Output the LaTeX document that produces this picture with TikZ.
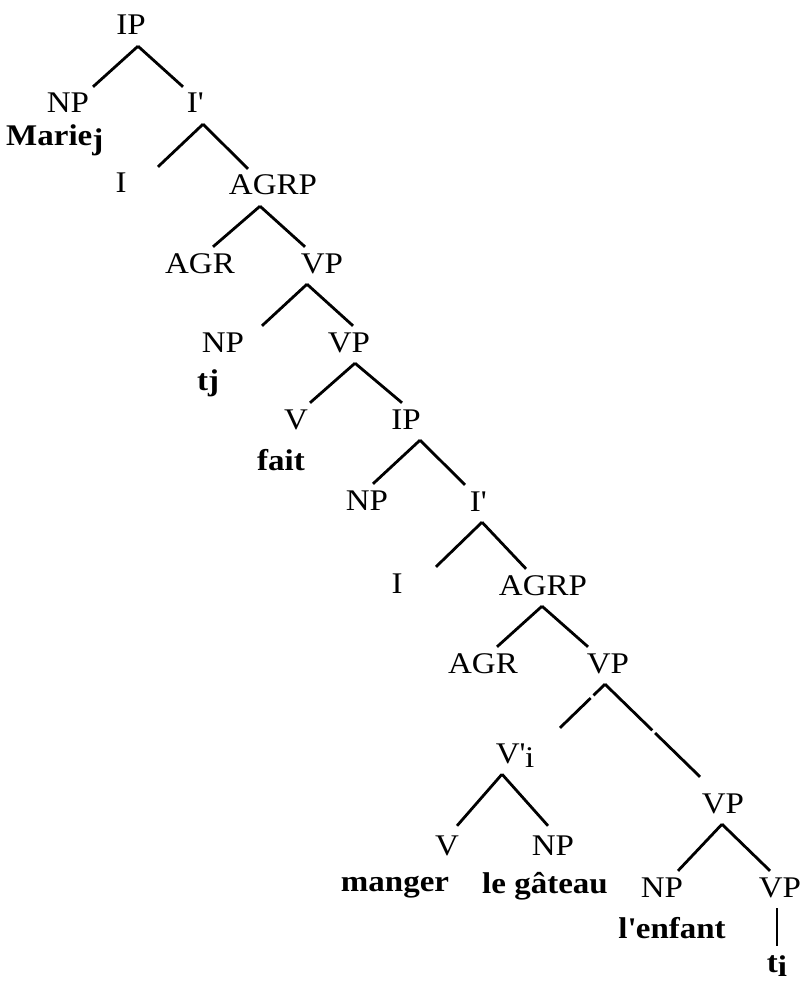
\documentclass[tikz,border=0pt]{standalone}
\usepackage{fontspec}
\setmainfont{Liberation Serif}[FakeStretch=1.1]
\newcommand\lowidx[1]{\raisebox{-4pt}{#1}}
\tikzset{
  cat/.style={inner sep=0pt, text height=26pt, text depth=11pt, anchor=base, font=\fontsize{30}{32}\selectfont},
  word/.style={cat, font=\fontsize{30}{32}\selectfont\bfseries},
  branch/.style={line width=2.8pt}
}

\begin{document}
\begin{tikzpicture}[x=1pt, y=-1pt]
    \useasboundingbox (0,0) rectangle (801,981);
    \node[cat] (ip1) at (131,35) {IP};
    \node[cat] (np1) at (68,113) {NP};
    \node[word, anchor=base west] (marie) at (6,146) {Marie\lowidx{j}};
    \node[cat] (ib1) at (195,113) {I\textquotesingle};
    \node[cat] (i1) at (121,193) {I};
    \node[cat] (agrp1) at (273,195) {AGRP};
    \node[cat] (agr1) at (200,273) {AGR};
    \node[cat] (vp1) at (322,273) {VP};
    \node[cat] (np2) at (223,352) {NP};
    \node[word] (tj) at (208,390) {tj};
    \node[cat] (vp2) at (349,352) {VP};
    \node[cat] (v1) at (296,429) {V};
    \node[word] (fait) at (281,470) {fait};
    \node[cat] (ip2) at (406,429) {IP};
    \node[cat] (np3) at (367,510) {NP};
    \node[cat] (ib2) at (478,511) {I\textquotesingle};
    \node[cat] (i2) at (397,593) {I};
    \node[cat] (agrp2) at (543,595) {AGRP};
    \node[cat] (agr2) at (483,673) {AGR};
    \node[cat] (vp3) at (608,673) {VP};
    \node[cat] (vbar) at (515,763) {V\textquotesingle\lowidx{i}};
    \node[cat] (vp4) at (723,813) {VP};
    \node[cat] (v2) at (447,855) {V};
    \node[cat] (np4) at (553,855) {NP};
    \node[word] (manger) at (395,891) {manger};
    \node[word] (gateau) at (545,893) {le gâteau};
    \node[cat] (np5) at (662,897) {NP};
    \node[cat] (vp5) at (780,897) {VP};
    \node[word] (lenfant) at (672,938) {l\textquotesingle enfant};
    \node[word] (ti) at (777,972) {t\lowidx{i}};

    \draw[branch] ([xshift=7]ip1.south) -- ([xshift=25]np1.north);
    \draw[branch] ([xshift=7]ip1.south) -- ([xshift=-12]ib1.north);
    \draw[branch] ([xshift=8]ib1.south) -- ([xshift=37]i1.north);
    \draw[branch] ([xshift=8]ib1.south) -- ([xshift=-25]agrp1.north);
    \draw[branch] ([xshift=-13]agrp1.south) -- ([xshift=13]agr1.north);
    \draw[branch] ([xshift=-13]agrp1.south) -- ([xshift=-17]vp1.north);
    \draw[branch] ([xshift=-15]vp1.south) -- ([xshift=39]np2.north);
    \draw[branch] ([xshift=-15]vp1.south) -- ([xshift=4]vp2.north);
    \draw[branch] ([xshift=6]vp2.south) -- ([xshift=14]v1.north);
    \draw[branch] ([xshift=6]vp2.south) -- ([xshift=-4]ip2.north);
    \draw[branch] ([xshift=14]ip2.south) -- ([xshift=6]np3.north);
    \draw[branch] ([xshift=14]ip2.south) -- ([xshift=-13]ib2.north);
    \draw[branch] ([xshift=4]ib2.south) -- ([xshift=39]i2.north);
    \draw[branch] ([xshift=4]ib2.south) -- ([xshift=-17]agrp2.north);
    \draw[branch] ([xshift=-1]agrp2.south) -- ([xshift=14]agr2.north);
    \draw[branch] ([xshift=-1]agrp2.south) -- ([xshift=-20]vp3.north);
    \draw[branch, dash pattern=on 16pt off 4pt on 80pt] ([xshift=-3]vp3.south) -- ([xshift=45,yshift=9]vbar.north);
    \draw[branch, dash pattern=on 66pt off 4pt on 100pt] ([xshift=-3]vp3.south) -- ([xshift=-23,yshift=10]vp4.north);
    \draw[branch] ([xshift=-13]vbar.south) -- ([xshift=10,yshift=3]v2.north);
    \draw[branch] ([xshift=-13]vbar.south) -- ([xshift=-5,yshift=3]np4.north);
    \draw[branch] ([xshift=-1]vp4.south) -- ([xshift=16]np5.north);
    \draw[branch] ([xshift=-1]vp4.south) -- ([xshift=-10]vp5.north);
    \draw[branch] ([xshift=-3]vp5.south) -- (ti.north);
\end{tikzpicture}
\end{document}
